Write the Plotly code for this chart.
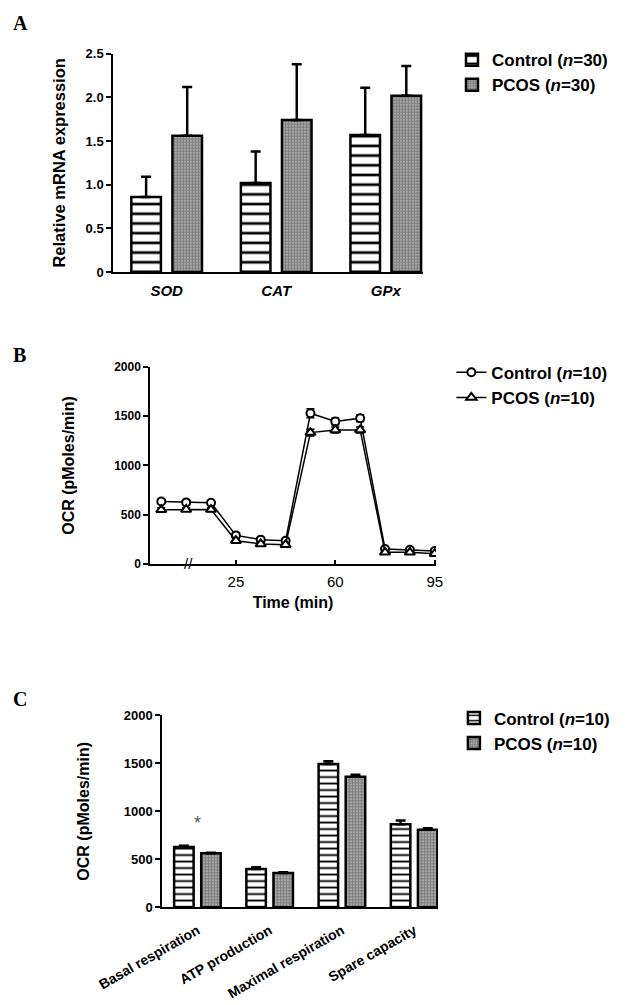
import plotly.graph_objects as go

# panel A - mRNA expression
genes = ["SOD", "CAT", "GPx"]
ctrl_mrna = [0.86, 1.02, 1.57]
ctrl_mrna_err = [0.23, 0.36, 0.54]
pcos_mrna = [1.56, 1.74, 2.02]
pcos_mrna_err = [0.56, 0.64, 0.34]

# panel B - OCR time course (12 measurements)
measurement = [1, 2, 3, 4, 5, 6, 7, 8, 9, 10, 11, 12]
time_ticks = [4, 8, 12]
time_labels = ["25", "60", "95"]
ctrl_ocr = [635, 625, 622, 290, 247, 236, 1530, 1446, 1480, 152, 145, 132]
ctrl_ocr_err = [22, 20, 20, 20, 15, 18, 45, 35, 35, 20, 15, 15]
pcos_ocr = [550, 553, 552, 236, 203, 196, 1334, 1361, 1361, 118, 118, 105]
pcos_ocr_err = [20, 18, 18, 18, 15, 15, 35, 30, 30, 15, 12, 12]

# panel C - respiration parameters
params = ["Basal respiration", "ATP production", "Maximal respiration", "Spare capacity"]
ctrl_par = [628, 399, 1493, 865]
ctrl_par_err = [14, 17, 28, 38]
pcos_par = [562, 358, 1361, 808]
pcos_par_err = [6, 8, 21, 15]

FONT = "Liberation Sans, Arial, sans-serif"
SERIF = "Liberation Serif, Times New Roman, serif"


def stripes(size):
    return dict(color="white", line=dict(color="black", width=2.5),
                pattern=dict(shape="-", fgcolor="black", bgcolor="white",
                             size=size, solidity=0.28, fillmode="replace"))


def dots():
    return dict(color="white", line=dict(color="black", width=2.5),
                pattern=dict(shape=".", fgcolor="black", bgcolor="white",
                             size=3, solidity=0.8))


def up_err(vals, w, t):
    return dict(type="data", array=vals, arrayminus=[0] * len(vals),
                symmetric=False, color="black", thickness=t, width=w)


fig = go.Figure()

fig.add_trace(go.Bar(x=genes, y=ctrl_mrna, error_y=up_err(ctrl_mrna_err, 5, 2.5),
                     marker=stripes(9.7), name="Control (<i>n</i>=30)",
                     xaxis="x", yaxis="y", legend="legend"))
fig.add_trace(go.Bar(x=genes, y=pcos_mrna, error_y=up_err(pcos_mrna_err, 5, 2.5),
                     marker=dots(), name="PCOS (<i>n</i>=30)",
                     xaxis="x", yaxis="y", legend="legend"))

fig.add_trace(go.Scatter(x=measurement, y=ctrl_ocr, mode="lines+markers",
                         error_y=dict(type="data", array=ctrl_ocr_err, color="black",
                                      thickness=1.5, width=4),
                         line=dict(color="black", width=1.5),
                         marker=dict(symbol="circle", size=8, color="white",
                                     line=dict(color="black", width=2)),
                         name="Control (<i>n</i>=10)", xaxis="x2", yaxis="y2",
                         legend="legend2"))
fig.add_trace(go.Scatter(x=measurement, y=pcos_ocr, mode="lines+markers",
                         error_y=dict(type="data", array=pcos_ocr_err, color="black",
                                      thickness=1.5, width=4),
                         line=dict(color="black", width=1.5),
                         marker=dict(symbol="triangle-up", size=9, color="white",
                                     line=dict(color="black", width=2)),
                         name="PCOS (<i>n</i>=10)", xaxis="x2", yaxis="y2",
                         legend="legend2"))

fig.add_trace(go.Bar(x=params, y=ctrl_par, error_y=up_err(ctrl_par_err, 5, 2.5),
                     marker=stripes(6.5), name="Control (<i>n</i>=10)",
                     xaxis="x3", yaxis="y3", legend="legend3"))
fig.add_trace(go.Bar(x=params, y=pcos_par, error_y=up_err(pcos_par_err, 5, 2.5),
                     marker=dots(), name="PCOS (<i>n</i>=10)",
                     xaxis="x3", yaxis="y3", legend="legend3"))

axis_common = dict(showline=True, linecolor="black", linewidth=1.5, showgrid=False,
                   zeroline=False, ticks="outside", ticklen=5, tickwidth=1.5,
                   tickcolor="black", automargin=False)
bold = dict(family=FONT, color="black", weight="bold")

fig.update_layout(
    width=637, height=1005,
    margin=dict(l=0, r=0, t=0, b=0),
    paper_bgcolor="white", plot_bgcolor="white",
    font=dict(family=FONT, color="black"),
    barmode="group", bargap=0.25, bargroupgap=0.28,
    xaxis=dict(domain=[0.1648, 0.6515], range=[-0.49, 2.34], anchor="y",
               showline=True, linecolor="black", linewidth=1.5, ticks="",
               automargin=False,
               tickfont=dict(size=15, style="italic", **bold), ticklabelstandoff=4),
    yaxis=dict(axis_common, domain=[0.7373, 0.9545], range=[0, 2.5], anchor="x",
               tickvals=[0, 0.5, 1, 1.5, 2, 2.5],
               ticktext=["0", "0.5", "1.0", "1.5", "2.0", "2.5"],
               tickfont=dict(size=13, **bold),
               title=dict(text="Relative mRNA expression", font=dict(size=16.5, **bold),
                          standoff=16)),
    xaxis2=dict(domain=[0.2229, 0.6719], range=[0.545, 12.05], anchor="y2",
                showline=True, linecolor="black", linewidth=1.5, automargin=False,
                ticks="inside", ticklen=4, tickwidth=1.5, tickcolor="black",
                tickvals=time_ticks, ticktext=time_labels,
                tickfont=dict(family=FONT, size=15, color="black"), ticklabelstandoff=3,
                title=dict(text="Time (min)", font=dict(size=16, **bold), standoff=8)),
    yaxis2=dict(axis_common, domain=[0.4468, 0.6428], range=[0, 2000], anchor="x2",
                dtick=500, tickfont=dict(size=12, **bold),
                title=dict(text="OCR (pMoles/min)", font=dict(size=16, **bold),
                           standoff=36)),
    xaxis3=dict(domain=[0.2418, 0.675], range=[-0.49, 3.33], anchor="y3",
                showline=True, linecolor="black", linewidth=1.5, ticks="",
                automargin=False,
                tickangle=-30, tickfont=dict(size=14, **bold), ticklabelstandoff=8),
    yaxis3=dict(axis_common, domain=[0.1052, 0.2962], range=[0, 2000], anchor="x3",
                dtick=500, tickfont=dict(size=13, **bold),
                title=dict(text="OCR (pMoles/min)", font=dict(size=16, **bold),
                           standoff=30)),
    legend=dict(x=0.697, y=0.966, xanchor="left", yanchor="top",
                font=dict(size=17, **bold), bgcolor="rgba(0,0,0,0)"),
    legend2=dict(x=0.696, y=0.655, xanchor="left", yanchor="top",
                 font=dict(size=17, **bold), bgcolor="rgba(0,0,0,0)"),
    legend3=dict(x=0.700, y=0.311, xanchor="left", yanchor="top",
                 font=dict(size=17, **bold), bgcolor="rgba(0,0,0,0)"),
)

# panel letters
for letter, yy in [("A", 0.985), ("B", 0.655), ("C", 0.312)]:
    fig.add_annotation(text=letter, xref="paper", yref="paper", x=0.004, y=yy,
                       xanchor="left", yanchor="middle", showarrow=False,
                       font=dict(family=SERIF, size=20, color="black", weight="bold"))

# axis break on panel B
fig.add_annotation(text="//", xref="x2", yref="y2", x=2.1, y=0, showarrow=False,
                   font=dict(family=FONT, size=15, color="black"))

# significance mark
fig.add_annotation(text="*", xref="x3", yref="y3", x=params[0], y=880, showarrow=False,
                   font=dict(family=FONT, size=18, color="#555555"))

fig.write_html("out.html")
